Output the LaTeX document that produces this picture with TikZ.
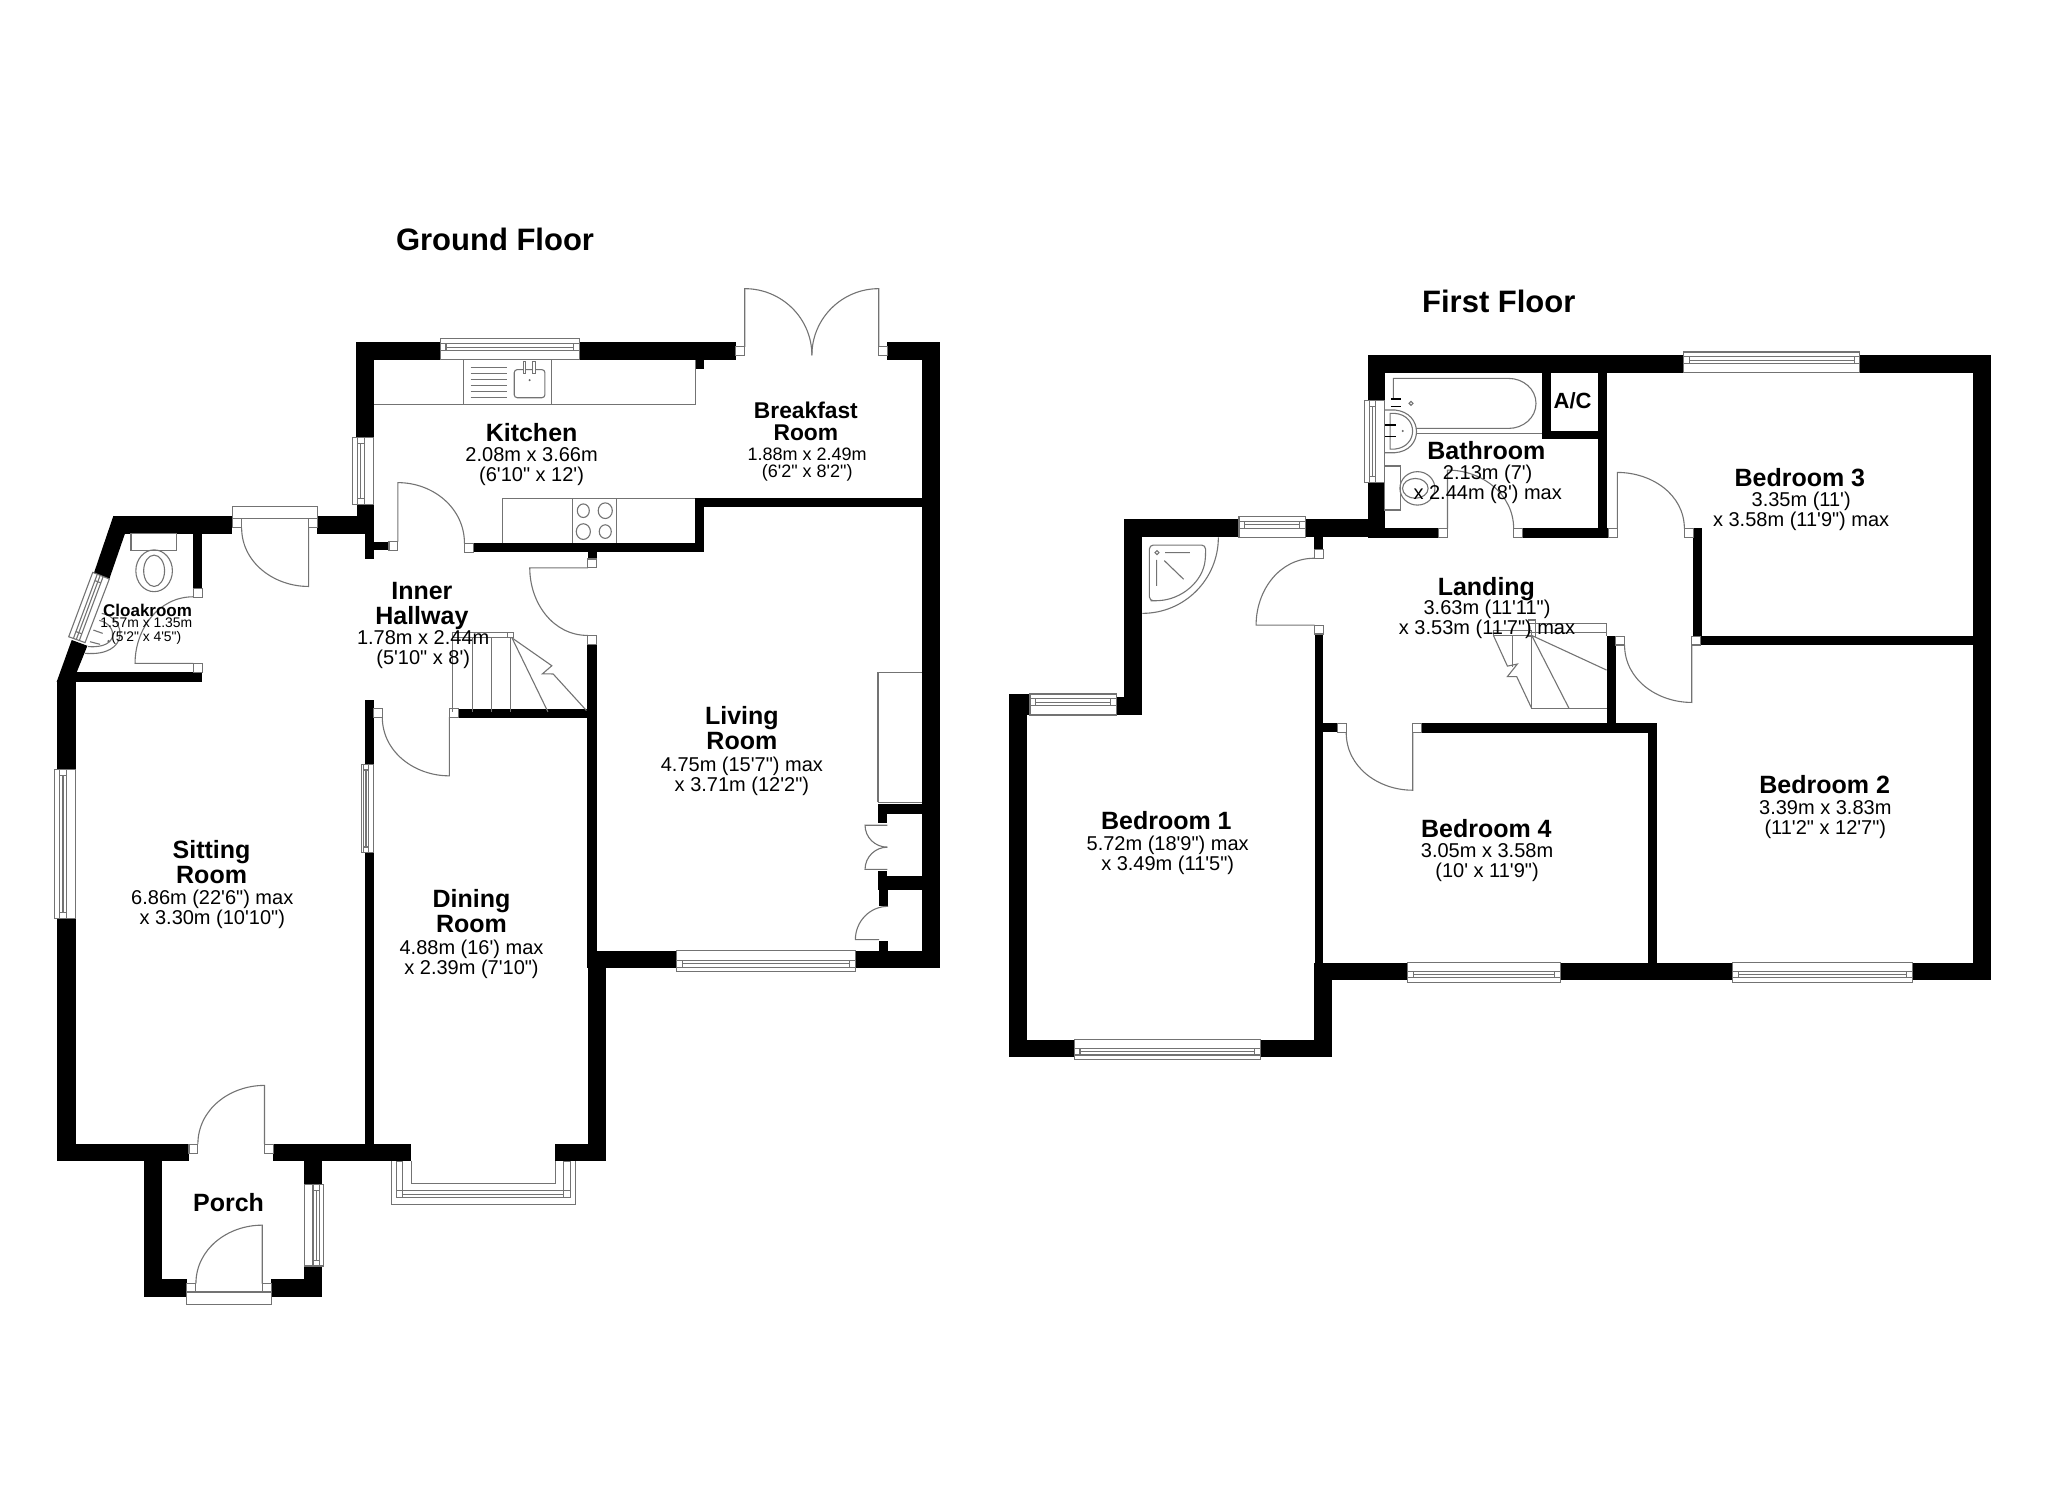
\documentclass[tikz,border=0pt]{standalone}
\usepackage{fontspec}
\newfontfamily\planfont{Liberation Sans}
\tikzset{
  wall/.style={fill=black},
  fitting/.style={draw=black!55,line width=1.1pt},
  floortitle/.style={font=\planfont\bfseries\fontsize{31}{33}\selectfont,inner sep=0pt},
  roomname/.style={font=\planfont\bfseries\fontsize{25}{25}\selectfont,align=center,inner sep=0pt},
  roomsize/.style={font=\planfont\fontsize{20}{20}\selectfont,align=center,inner sep=0pt},
  smallname/.style={font=\planfont\bfseries\fontsize{22.8}{22.4}\selectfont,align=center,inner sep=0pt},
  smallsize/.style={font=\planfont\fontsize{18}{17}\selectfont,align=center,inner sep=0pt}
}
\begin{document}
\begin{tikzpicture}[x=1.3061pt,y=-1.3061pt]
    \useasboundingbox (0,0) rectangle (1568,1140);
    % ---- ground floor walls
    % sitting room and cloakroom
    \fill[wall] (43.7,522) rectangle (58,889);
    \fill[wall] (43.7,876) rectangle (144.7,889);
    \fill[wall] (86.8,395) rectangle (178,408.5);
    \fill[wall] (86.8,395) -- (95.7,408.5) -- (83.7,443.3) -- (72,438.5) -- cycle;
    \fill[wall] (54.9,490) -- (66.9,494.4) -- (58.7,514.8) -- (58,522) -- (43.4,522) -- cycle;
    \fill[wall] (58,514.8) rectangle (154.9,522);
    \fill[wall] (148,408.5) rectangle (154.9,450.5);
    \fill[wall] (243,395) rectangle (286.4,408.5);
    % porch
    \fill[wall] (209.3,876) rectangle (315,889);
    \fill[wall] (110.3,883) rectangle (123.7,993);
    \fill[wall] (233.1,883) rectangle (246.2,906.7);
    \fill[wall] (233.1,969.3) rectangle (246.2,993);
    \fill[wall] (110.3,979) rectangle (143.1,993);
    \fill[wall] (207.8,979) rectangle (246.2,993);
    % dining room
    \fill[wall] (279.7,535.6) rectangle (286.2,585);
    \fill[wall] (279.7,653) rectangle (286.2,880);
    \fill[wall] (425,876) rectangle (463.7,889);
    \fill[wall] (450,741) rectangle (463.7,889);
    \fill[wall] (351.4,542.5) rectangle (456.9,549.5);
    % inner hallway stubs
    \fill[wall] (279.7,386) rectangle (286.4,428);
    \fill[wall] (273,386) rectangle (286.4,408.5);
    \fill[wall] (286,414.7) rectangle (297.8,421.2);
    % kitchen and breakfast room
    \fill[wall] (272.8,262) rectangle (337,276);
    \fill[wall] (443.4,262) rectangle (563.4,276);
    \fill[wall] (272.8,262) rectangle (286.2,335);
    \fill[wall] (532.2,276) rectangle (539,282.6);
    \fill[wall] (679,262) rectangle (719.5,276);
    \fill[wall] (705.6,262) rectangle (719.5,741);
    \fill[wall] (362.5,416) rectangle (539,423);
    \fill[wall] (532.2,381) rectangle (539,423);
    \fill[wall] (532.2,381) rectangle (705.6,388);
    % living room
    \fill[wall] (450,423) rectangle (456.9,428);
    \fill[wall] (449.6,493) rectangle (456.9,741);
    \fill[wall] (456.9,728) rectangle (518,741);
    \fill[wall] (655,728) rectangle (719.5,741);
    % living room cupboards
    \fill[wall] (672.2,615.8) rectangle (705.6,622.9);
    \fill[wall] (672.2,622.9) rectangle (679.4,630.3);
    \fill[wall] (672.2,671) rectangle (705.6,681.7);
    \fill[wall] (672.2,667.2) rectangle (679.4,681.7);
    \fill[wall] (673,681.7) rectangle (679.9,693.9);
    \fill[wall] (673,720.6) rectangle (679.9,728);
    % ---- first floor walls
    % bathroom and airing cupboard
    \fill[wall] (1047,272) rectangle (1288.6,285.4);
    \fill[wall] (1047,272) rectangle (1060,306.5);
    \fill[wall] (1047,369.5) rectangle (1060,411.7);
    \fill[wall] (1059,404.5) rectangle (1101.3,411.7);
    \fill[wall] (1165.8,404.5) rectangle (1231.4,411.7);
    \fill[wall] (1223.8,285) rectangle (1230.1,411.7);
    \fill[wall] (1180.9,285) rectangle (1187.5,336.1);
    \fill[wall] (1180.9,329.7) rectangle (1230.1,336.1);
    % bedroom 3 and 2
    \fill[wall] (1424,272) rectangle (1524,285.4);
    \fill[wall] (1510.4,272) rectangle (1524,750);
    \fill[wall] (1296.5,404.5) rectangle (1302.8,487);
    \fill[wall] (1301.6,487) rectangle (1511,493.6);
    \fill[wall] (1261.5,553.8) rectangle (1268.4,750);
    % bedroom 1
    \fill[wall] (860.5,397.6) rectangle (948.6,411.4);
    \fill[wall] (999.6,397.6) rectangle (1060,411.4);
    \fill[wall] (860.5,397.6) rectangle (874.6,547.4);
    \fill[wall] (855,533.4) rectangle (874.6,547.4);
    \fill[wall] (772.7,533.4) rectangle (786.5,809);
    \fill[wall] (772.7,531.3) rectangle (788.6,547.4);
    \fill[wall] (772.7,796) rectangle (822.4,809);
    \fill[wall] (964.8,796) rectangle (1019.6,809);
    \fill[wall] (1006.2,737) rectangle (1019.6,809);
    \fill[wall] (1006.2,411.4) rectangle (1013.2,420.6);
    \fill[wall] (1006.8,485.5) rectangle (1013.2,737);
    \fill[wall] (1013.2,553.8) rectangle (1023.9,560.7);
    % bedroom 4 and landing
    \fill[wall] (1088.5,553.8) rectangle (1268.4,561);
    \fill[wall] (1230.1,487) rectangle (1237,553.8);
    \fill[wall] (1006.2,737) rectangle (1077.5,750);
    \fill[wall] (1194.7,737) rectangle (1326.5,750);
    \fill[wall] (1464.3,737) rectangle (1524,750);
    % door jambs
    \foreach \jx/\jy in {178/397,236.3/397,297.8/414.7,355.6/416,563.4/265.6,672.8/265.6,
        450/428,450/486.5,285.9/542.5,344/542.5,148/450.5,148/507.9,144.7/876,202.5/876,
        143.1/982.8,200.8/982.8,1101.3/404.8,1158.9/404.8,1231.4/404.8,1289.6/404.8,
        1006.2/420.6,1006.5/478.6,1023.9/553.8,1081.6/553.8,1237/487,1295.2/487}
        \draw[fitting,fill=white] (\jx,\jy) rectangle +(6.8,6.8);
    % windows along a horizontal wall, outer edge first
    \foreach \xa/\xb/\yo/\yi in {337/443.4/259.5/275.5,518/655/744/728,1289/1424/269.5/285.4,
        948.6/999.6/395.6/411.4,788.6/855/531.3/547.4,822.4/964.8/811/796,
        1077.5/1194.7/752/737,1326.5/1464.3/752/737} {
        \draw[fitting,fill=white] (\xa,\yo) rectangle (\xb,\yi);
        \draw[fitting] (\xa,{\yo+.22*(\yi-\yo)}) rectangle (\xb,{\yo+.56*(\yi-\yo)});
        \draw[fitting] (\xa+4.5,{\yo+.22*(\yi-\yo)}) rectangle (\xb-4.5,{\yo+.56*(\yi-\yo)});
        \draw[fitting] (\xa+4.5,{\yo+.39*(\yi-\yo)}) -- (\xb-4.5,{\yo+.39*(\yi-\yo)});
    }
    % windows along a vertical wall
    \foreach \ya/\yb/\xo/\xi in {589/703/42/58,585/653/276.5/286,335/386/270/286.2,
        906.7/969.3/248/233.1,306.5/369.5/1045/1060} {
        \draw[fitting,fill=white] (\xo,\ya) rectangle (\xi,\yb);
        \draw[fitting] ({\xo+.22*(\xi-\xo)},\ya) rectangle ({\xo+.56*(\xi-\xo)},\yb);
        \draw[fitting] ({\xo+.22*(\xi-\xo)},\ya+4.5) rectangle ({\xo+.56*(\xi-\xo)},\yb-4.5);
        \draw[fitting] ({\xo+.39*(\xi-\xo)},\ya+4.5) -- ({\xo+.39*(\xi-\xo)},\yb-4.5);
    }
    % slanted cloakroom window
    \draw[fitting,fill=white] (71,438.2) -- (83.7,443.3) -- (65.1,492) -- (52.6,487.5) -- cycle;
    \draw[fitting] (74.5,439.6) -- (56.2,488.8) (79,441.4) -- (60.7,490.4) (76.7,440.5) -- (58.4,489.6);
    \draw[fitting] (72.6,444.5) -- (77.2,446.3) (58,483.5) -- (62.5,485.2);
    % ---- ground floor doors
    \draw[fitting] (236.3,404) -- (236.3,449) to[out=180,in=-90] (185,404);
    \draw[fitting] (304.6,414.7) -- (304.6,369.5) to[out=0,in=90] (355.6,416);
    \draw[fitting] (450,434.8) -- (405.6,434.8) to[out=-90,in=180] (450,486.5);
    \draw[fitting] (344,549) -- (344,594) to[out=180,in=-90] (292.7,549);
    \draw[fitting] (148,507.9) -- (103.4,507.9) to[out=90,in=180] (148,456.9);
    \draw[fitting] (202.5,876) -- (202.5,831) to[out=180,in=90] (151.5,876);
    \draw[fitting] (200.8,982.8) -- (200.8,938) to[out=180,in=90] (150,982.8);
    \draw[fitting] (570.2,265.6) -- (570.2,221) to[out=0,in=90] (621.6,272);
    \draw[fitting] (672.8,265.6) -- (672.8,221) to[out=180,in=90] (621.6,272);
    % entrance and cloakroom door frames
    \draw[fitting,fill=white] (178,388) rectangle (243,397);
    \draw[fitting,fill=white] (143.1,989.2) rectangle (207.8,998.7);
    % cupboard doors
    \draw[fitting] (679.4,631.8) -- (662.3,631.8) to[out=-90,in=180] (679.4,648.6);
    \draw[fitting] (679.4,665.6) -- (662.3,665.6) to[out=90,in=180] (679.4,648.6);
    \draw[fitting] (673,719.4) -- (654.9,719.4) to[out=90,in=180] (679.9,693.9);
    \draw[fitting] (672.2,614.3) -- (672.2,514.8) -- (705.6,514.8);
    \draw[fitting] (672.2,614.3) -- (705.6,614.3);
    % ---- bay window
    \draw[fitting] (299.4,889) -- (299.4,922) -- (440.6,922) -- (440.6,889);
    \draw[fitting] (315,889) -- (315,906) -- (425,906) -- (425,889);
    \draw[fitting] (303.5,889) rectangle (308.5,917);
    \draw[fitting] (431.5,889) rectangle (436.5,917);
    \draw[fitting] (303.5,911.5) rectangle (436.5,917);
    \draw[fitting] (308.5,914.2) -- (431.5,914.2);
    % ---- kitchen fittings
    \draw[fitting] (286.2,309.5) -- (532.2,309.5) -- (532.2,276);
    \draw[fitting] (355,276) -- (355,309.5) (422.2,276) -- (422.2,309.5);
    \foreach \drainy in {281,285.6,290.2,294.8,299.4,304}
        \draw[fitting,line width=.8pt] (360.3,\drainy) -- (388.4,\drainy);
    \draw[fitting,rounded corners=3pt] (393.7,283) rectangle (417.2,304.5);
    \draw[fitting,fill=white] (400.5,277) rectangle (402.5,286);
    \draw[fitting,fill=white] (408,277) rectangle (410,286);
    \fill[black!60] (405.5,291) circle [radius=.9];
    \draw[fitting] (384.4,416) -- (384.4,382) -- (532.2,382);
    \draw[fitting] (438.4,382) -- (438.4,416) (471.9,382) -- (471.9,416);
    \draw[fitting] (446.6,391) ellipse [x radius=4.6,y radius=5.2];
    \draw[fitting] (463.4,391) ellipse [x radius=5.4,y radius=6];
    \draw[fitting] (446.6,407) ellipse [x radius=5.4,y radius=6];
    \draw[fitting] (463.4,407) ellipse [x radius=4.6,y radius=5.2];
    % ---- cloakroom fittings
    \draw[fitting] (100.3,408.5) rectangle (134.8,421.6);
    \draw[fitting] (118,437) ellipse [x radius=14,y radius=16];
    \draw[fitting] (118,437) ellipse [x radius=8,y radius=12];
    \draw[fitting] (77.9,469.6) .. controls (97,473) and (100,503) .. (65.1,500.2);
    \draw[fitting] (76,475) .. controls (90,478) and (92,497) .. (67.5,495);
    \draw[fitting] (71.5,482.4) -- (78.6,484.9) (68.9,491.3) -- (76.6,493.3);
    \fill[black!60] (83,490.8) circle [radius=.9];
    % ---- ground floor stairs
    \draw[fitting] (346.5,545) -- (346.5,484.5) -- (390.4,484.5);
    \draw[fitting] (346.5,488.4) -- (390.4,488.4);
    \draw[fitting] (361.6,488.4) -- (361.6,545) (376.3,488.4) -- (376.3,545) (391,488.4) -- (391,545);
    \draw[fitting,fill=white] (388.8,484) rectangle (393,488.4);
    \draw[fitting] (392,488.4) -- (419.5,545);
    \draw[fitting] (392,488.4) -- (422.5,509.7) -- (415.3,515.9) -- (423.5,516) -- (449,544);
    % ---- first floor bathroom
    \draw[fitting] (1066.8,305) -- (1066.8,289.7) -- (1155,289.7) to[out=0,in=90] (1176,308.9)
        to[out=-90,in=0] (1155,328) -- (1084,328);
    \draw[fitting] (1084.7,331.8) -- (1180.9,331.8);
    \draw[fitting] (1059.7,313.9) -- (1068,313.9) .. controls (1090,316) and (1090,345) .. (1068,346.6) -- (1059.7,346.6);
    \draw[fitting] (1064.3,316.5) -- (1068,316.5) .. controls (1086,318) and (1086,342) .. (1068,343.8) -- (1064.3,343.8) -- cycle;
    \draw[black,line width=1.5pt] (1064.8,305.5) -- (1072.4,305.5) (1064.8,311.4) -- (1072.4,311.4);
    \draw[black,line width=1.5pt] (1060.4,325.4) -- (1068.8,325.4) (1060.4,334.3) -- (1068.8,334.3);
    \draw[fitting] (1080.3,308.8) circle [radius=1.5];
    \fill[black!60] (1074,330) circle [radius=.9];
    \draw[fitting] (1059.7,356.8) rectangle (1072,390.5);
    \draw[fitting] (1085.2,373.9) ellipse [x radius=13.4,y radius=12.8];
    \draw[fitting] (1083.6,373.9) ellipse [x radius=9.8,y radius=7.6];
    % ---- first floor doors
    \draw[fitting] (1108.2,404.8) -- (1108.2,359.9) to[out=0,in=90] (1158.9,404.8);
    \draw[fitting] (1238.3,404.8) -- (1238.3,361.7) to[out=0,in=90] (1289.6,404.8);
    \draw[fitting] (1006.5,478.6) -- (961.7,478.6) to[out=90,in=180] (1006.2,427.4);
    \draw[fitting] (1081.6,561) -- (1081.6,605) to[out=180,in=-90] (1030.7,561);
    \draw[fitting] (1295.2,493.8) -- (1295.2,537.8) to[out=180,in=-90] (1243.8,493.8);
    % shower
    \draw[fitting] (932.8,411.4) to[out=-90,in=0] (874.6,469.6);
    \draw[fitting,rounded corners=4pt] (880,417.3) -- (923,417.3) -- (923,426) .. controls (921,445) and (905,459) .. (884,460) -- (880,460) -- cycle;
    \draw[fitting] (892,423.1) -- (911,423.1) (885.5,428.7) -- (885.5,448.6) (891.4,429.2) -- (906.2,443.5);
    \draw[fitting] (885.8,423.1) circle [radius=1.5];
    % ---- first floor stairs
    \draw[fitting] (1170,484.4) -- (1170,477.3) -- (1230,477.3) -- (1230,487);
    \draw[fitting] (1143.4,482.9) rectangle (1172.7,486.5);
    \draw[fitting] (1170,484.4) -- (1230,484.4);
    \draw[fitting] (1170,474.7) rectangle (1175.3,487);
    \draw[fitting] (1158,486.5) -- (1158,510.5);
    \draw[fitting] (1172.7,487) -- (1172.7,542.4) -- (1230,542.4);
    \draw[fitting] (1172.7,486.5) -- (1201.3,542.4) (1172.7,486.5) -- (1230,513);
    \draw[fitting] (1143.4,486.5) -- (1154.1,510) -- (1161.7,508.4) -- (1154.1,518) -- (1161.2,518) -- (1172.7,542.4);
    % ---- titles and room labels
    \node[floortitle] (groundtitle) at (379,183) {Ground Floor};
    \node[floortitle] (firsttitle) at (1147.5,231) {First Floor};
    \node[roomname] (porch) at (175,921) {Porch};
    \node[roomname] (sitting) at (162,660) {Sitting\\Room};
    \node[roomsize] (sittingsize) at (162.5,696) {6.86m (22'6") max\\x 3.30m (10'10")};
    \node[roomname] (dining) at (361,697.5) {Dining\\Room};
    \node[roomsize] (diningsize) at (361,734.5) {4.88m (16') max\\x 2.39m (7'10")};
    \node[roomname] (living) at (568,557.5) {Living\\Room};
    \node[roomsize] (livingsize) at (568,594.5) {4.75m (15'7") max\\x 3.71m (12'2")};
    \node[roomname] (hallway) at (323,464) {Inner\\Hallway};
    \node[roomsize] (hallwaysize) at (324,497.5) {1.78m x 2.44m\\(5'10" x 8')};
    \node[roomname] (kitchen) at (407,331) {Kitchen};
    \node[roomsize] (kitchensize) at (407,357) {2.08m x 3.66m\\(6'10" x 12')};
    \node[smallname] (breakfast) at (617,322.5) {Breakfast\\Room};
    \node[smallsize] (breakfastsize) at (618,355.5) {1.88m x 2.49m\\(6'2" x 8'2")};
    \node[font=\planfont\bfseries\fontsize{17}{17}\selectfont,inner sep=0pt] (cloakroom) at (113,467) {Cloakroom};
    \node[font=\planfont\fontsize{13.9}{13.6}\selectfont,align=center,inner sep=0pt] (cloakroomsize) at (112,483) {1.57m x 1.35m\\(5'2" x 4'5")};
    \node[font=\planfont\bfseries\fontsize{22}{22}\selectfont,inner sep=0pt] (airing) at (1204,307) {A/C};
    \node[roomname] (bathroom) at (1138,345) {Bathroom};
    \node[roomsize] (bathroomsize) at (1139,371) {2.13m (7')\\x 2.44m (8') max};
    \node[roomname] (landing) at (1138,451) {Landing};
    \node[roomsize] (landingsize) at (1138.5,474.5) {3.63m (11'11")\\x 3.53m (11'7") max};
    \node[roomname] (bedthree) at (1378,366) {Bedroom 3};
    \node[roomsize] (bedthreesize) at (1379,391.5) {3.35m (11')\\x 3.58m (11'9") max};
    \node[roomname] (bedtwo) at (1397,601) {Bedroom 2};
    \node[roomsize] (bedtwosize) at (1397.5,627.5) {3.39m x 3.83m\\(11'2" x 12'7")};
    \node[roomname] (bedfour) at (1138,634) {Bedroom 4};
    \node[roomsize] (bedfoursize) at (1138.5,660.5) {3.05m x 3.58m\\(10' x 11'9")};
    \node[roomname] (bedone) at (893,628) {Bedroom 1};
    \node[roomsize] (bedonesize) at (894,654.5) {5.72m (18'9") max\\x 3.49m (11'5")};
\end{tikzpicture}
\end{document}
